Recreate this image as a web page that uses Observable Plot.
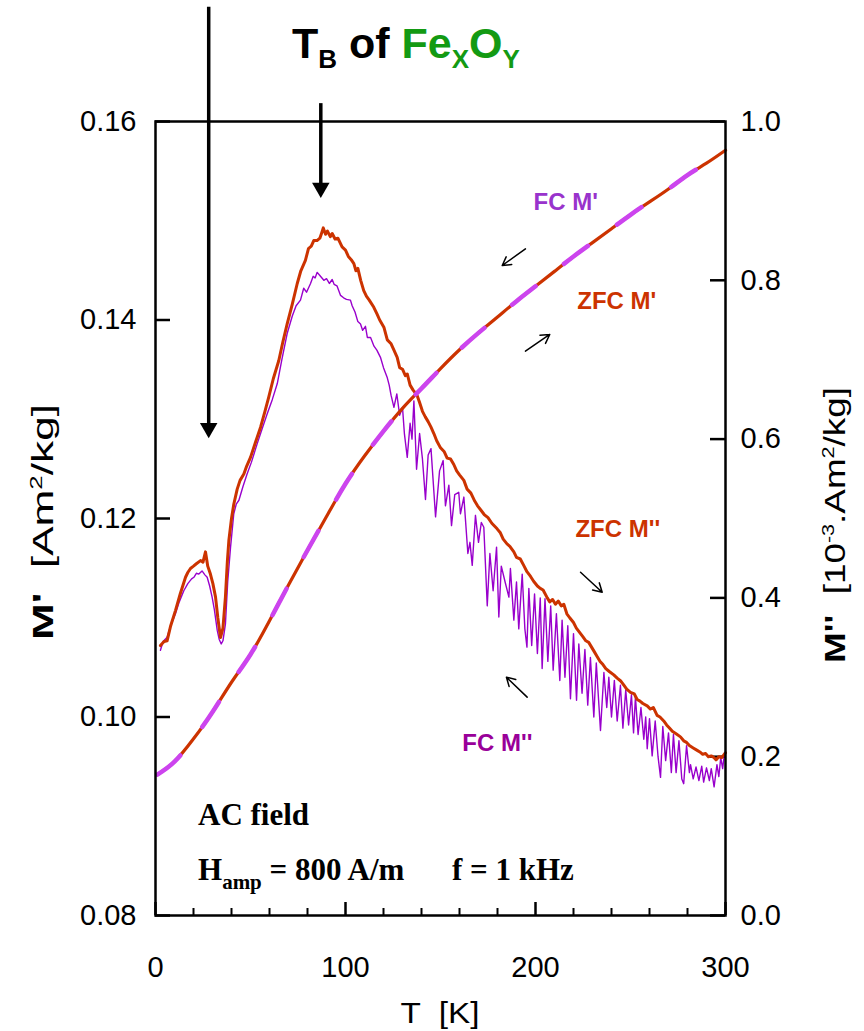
<!DOCTYPE html>
<html><head><meta charset="utf-8">
<script src="https://cdn.jsdelivr.net/npm/d3@7"></script>
<script src="https://cdn.jsdelivr.net/npm/@observablehq/plot@0.6"></script>
<style>body{margin:0;background:#fff} svg{display:block} text{white-space:pre}</style>
</head><body><div id="chart"></div><script>
// ---------- data (T in K) ----------
const tempMp = [1,10,20,30,40,50,60,70,80,90,100,110,120,130,140,150,160,170,180,190,200,210,220,230,240,250,260,270,280,290,300];
const zfcMp  = [0.0942,0.0955,0.0978,0.1005,0.1035,0.1063,0.1097,0.1133,0.1168,0.1202,0.1235,0.1263,0.1288,0.1311,0.1331,0.1351,0.1370,0.1387,0.1403,0.1419,0.1434,0.1449,0.1464,0.1478,0.1492,0.1506,0.1519,0.1532,0.1546,0.1558,0.1571];
const fcMp   = [0.0942,0.0955,0.0978,0.1005,0.1035,0.1063,0.1097,0.1133,0.1168,0.1202,0.1235,0.1263,0.1288,0.1311,0.1331,0.1351,0.1370,0.1387,0.1403,0.1419,0.1434,0.1449,0.1464,0.1478,0.1492,0.1506,0.1519,0.1532,0.1546,0.1558,0.1571];

// M'' in 10^-3 Am2/kg, [T, value]
const zfcMpp = [[2.6,0.340],[4.5,0.345],[6.1,0.346],[8,0.365],[10.5,0.384],[13,0.405],[15.8,0.426],[17,0.432],[18.4,0.437],[20,0.440],[21.5,0.443],[23.7,0.447],[25,0.445],[26.3,0.458],[27.5,0.440],[28.9,0.430],[30.2,0.418],[31.6,0.401],[32.8,0.375],[34.2,0.350],[35.5,0.362],[36.8,0.401],[37.8,0.445],[38.6,0.472],[40,0.500],[41.2,0.518],[43,0.537],[44.5,0.548],[46.5,0.556],[48,0.566],[50,0.577],[52.5,0.595],[55.3,0.615],[57.5,0.634],[59.6,0.653],[62,0.676],[64.9,0.699],[67,0.722],[69.3,0.745],[72,0.770],[74.6,0.796],[76.5,0.812],[78.9,0.825],[80.5,0.840],[82,0.843],[83.3,0.850],[85,0.850],[86.5,0.853],[87.5,0.860],[88.3,0.866],[89.5,0.858],[90.5,0.862],[92,0.855],[93,0.859],[94.5,0.852],[96,0.853],[98.2,0.842],[100,0.838],[101.5,0.830],[103,0.826],[104.4,0.821],[105.5,0.812],[106.5,0.815],[108,0.800],[109.6,0.787],[111,0.780],[112.5,0.775],[114.9,0.766],[116.5,0.758],[118,0.750],[120.2,0.741],[122,0.725],[124,0.720],[125.5,0.712],[127.2,0.703],[128.5,0.690],[130,0.688],[131.5,0.680],[132.5,0.682],[134,0.668],[135.5,0.662],[137.7,0.655],[139,0.646],[140.5,0.635],[142,0.628],[143.5,0.622],[145,0.615],[146.5,0.607],[148,0.598],[150,0.589],[152,0.584],[153.5,0.576],[155.3,0.575],[157,0.568],[158.5,0.560],[160,0.555],[162.3,0.548],[164,0.537],[166,0.532],[168,0.522],[169.5,0.516],[171.1,0.511],[173,0.505],[175,0.501],[177,0.494],[179.8,0.487],[181.5,0.482],[183,0.474],[185,0.468],[186.5,0.465],[188.6,0.458],[190,0.451],[192,0.449],[194,0.440],[195.5,0.433],[197.4,0.427],[199,0.421],[201,0.415],[202.5,0.412],[204,0.410],[206.2,0.400],[207.5,0.395],[209,0.398],[210.5,0.392],[212,0.396],[213.5,0.390],[214.9,0.392],[216.5,0.380],[218,0.375],[220,0.369],[221.5,0.362],[223.7,0.355],[225,0.351],[226.5,0.346],[228,0.344],[229.5,0.338],[231,0.332],[232.5,0.326],[234,0.320],[235.5,0.316],[237,0.311],[239,0.307],[241.2,0.303],[243,0.299],[245,0.295],[246.5,0.290],[248,0.285],[250,0.281],[252,0.279],[253.5,0.272],[255,0.270],[256.5,0.267],[258.8,0.264],[260.5,0.260],[262,0.262],[264,0.252],[265.5,0.250],[267.5,0.245],[269,0.240],[270.5,0.236],[272,0.232],[274,0.229],[276.3,0.225],[278,0.220],[279.5,0.218],[281,0.214],[283,0.211],[285.1,0.208],[286.5,0.206],[288,0.203],[289.5,0.204],[291,0.200],[292.5,0.201],[293.9,0.199],[295,0.196],[296.5,0.200],[298,0.199],[299,0.202],[300,0.205]];

const fcMpp = [[2.6,0.334],[4,0.345],[6,0.350],[8,0.365],[10.5,0.380],[12.5,0.395],[14.9,0.409],[17,0.418],[19,0.424],[20.2,0.426],[21.5,0.431],[22.8,0.430],[24.5,0.434],[26,0.429],[27.2,0.426],[28.5,0.415],[29.8,0.401],[31,0.385],[32.5,0.359],[33.5,0.348],[34.6,0.342],[35.5,0.346],[36.8,0.367],[38,0.420],[39.5,0.464],[41.2,0.506],[42.5,0.518],[43.9,0.523],[46,0.540],[48.2,0.556],[50.5,0.571],[53.5,0.594],[56,0.612],[58.8,0.632],[61.5,0.650],[64.1,0.670],[66.5,0.700],[69.3,0.733],[72,0.755],[74,0.768],[76.3,0.775],[78,0.790],[79.5,0.785],[81.6,0.796],[83,0.805],[84,0.803],[85.1,0.810],[86.5,0.806],[88.6,0.800],[90,0.802],[91.5,0.796],[93,0.801],[94,0.795],[95.5,0.793],[97.4,0.781],[99,0.778],[100.5,0.776],[102.6,0.775],[103.5,0.768],[105,0.760],[106.5,0.748],[107.9,0.745],[109,0.737],[110.5,0.742],[111.5,0.728],[113.2,0.728],[115,0.717],[116.5,0.712],[118.4,0.703],[120,0.690],[121.9,0.678],[123,0.668],
[124,0.655],[125.5,0.640],[127,0.657],[128.5,0.630],[130,0.640],[131,0.607],[132.5,0.577],[134,0.620],[135,0.600],[136,0.648],[137.4,0.562],[139,0.607],[140.5,0.575],[142.1,0.524],[143.5,0.580],[145,0.588],[147.4,0.502],[149.5,0.560],[151.4,0.573],[152.6,0.516],[154.4,0.542],[155.8,0.491],[157.5,0.530],[159.6,0.533],[160.5,0.506],[162.3,0.527],[164.4,0.456],[165.5,0.470],[166.7,0.441],[168.4,0.504],[170,0.470],[171.5,0.495],[172.8,0.489],[174.6,0.390],[176,0.456],[177.7,0.409],[179.5,0.464],[180.7,0.376],[182,0.440],[184,0.420],[186,0.401],[186.8,0.437],[188.6,0.372],[190,0.420],[191.2,0.361],[193,0.430],[194.4,0.361],[195.5,0.338],[196.5,0.412],[198,0.340],[199.5,0.405],[201,0.330],[202.5,0.400],[203.5,0.311],[205,0.399],[206.5,0.320],[208,0.390],[209.3,0.309],[211,0.380],[212.8,0.296],[214,0.372],[215.5,0.300],[217,0.365],[218.4,0.273],[220,0.355],[221.6,0.271],[222.8,0.342],[224.5,0.280],[226,0.335],[227.5,0.265],[228.9,0.325],[230.7,0.250],[232,0.318],[234.2,0.233],[236,0.306],[237.5,0.262],[238.6,0.300],[240,0.250],[241.5,0.296],[243,0.245],[244.7,0.290],[246,0.236],[247.5,0.284],[249,0.240],[250.5,0.278],[251.6,0.230],[252.6,0.275],[254,0.228],[255.5,0.262],[257,0.222],[258,0.250],[258.8,0.210],[260,0.248],[261.4,0.201],[263,0.245],[264.5,0.200],[265.8,0.174],[267,0.238],[268.5,0.195],[270,0.230],[271.5,0.180],[272.6,0.228],[274,0.180],[275.5,0.220],[277,0.172],[278,0.166],[279.5,0.214],[281,0.180],[281.6,0.190],[283,0.172],[284.5,0.187],[286,0.170],[287.5,0.188],[288.5,0.168],[290,0.186],[291.5,0.170],[292.5,0.185],[294,0.162],[295.5,0.190],[296.5,0.175],[297.5,0.199],[298.5,0.185],[299.5,0.205]];

const xMajorTicks = [0,100,200,300];
const xMinorTicks = [20,40,60,80,120,140,160,180,220,240,260,280];
const leftTicks = [0.08,0.10,0.12,0.14,0.16];
const rightTicks = [0,0.2,0.4,0.6,0.8,1.0];

// annotations
const curveLabels = [
  {T:199, v:0.1519, label:"FC M'", color:"#9933cc"},
  {T:222, v:0.1419, label:"ZFC M'", color:"#cc3300"},
  {T:221, v:0.1189, label:"ZFC M''", color:"#cc3300"},
  {T:161.5, v:0.0973, label:"FC M''", color:"#990099"}
];
const smallArrows = [
  {x1:194.7, y1:0.14717, x2:182.5, y2:0.14549},
  {x1:194.7, y1:0.13686, x2:207.5, y2:0.13854},
  {x1:223.7, y1:0.11459, x2:235.1, y2:0.11257},
  {x1:195.6, y1:0.10200, x2:184.7, y2:0.10401}
];
const bigArrows = [{T:28, top:0.1715, tip:0.1281}, {T:87, top:0.1618, tip:0.1523}];

// ---------- chart ----------
const W = 864, H = 1031, mL = 155, mR = 139, mT = 121, mB = 116;
const pxT = 300 / (W - mL - mR);          // K per pixel
const pxY = 0.08 / (H - mT - mB);         // M' per pixel
const toLeft = v => 0.08 + 0.08 * v;      // right axis -> left axis units
const font = "Liberation Sans, Arial, Helvetica, sans-serif";

const chart = Plot.plot({
  width: W, height: H,
  marginLeft: mL, marginRight: mR, marginTop: mT, marginBottom: mB,
  x: {domain: [0, 300]},
  y: {domain: [0.08, 0.16]},
  color: {type: "identity"},
  style: {fontFamily: font, background: "white", color: "black"},
  marks: [
    Plot.axisX({ticks: xMajorTicks, tickSize: 0, tickPadding: 41, fontSize: 29, label: null}),
    Plot.axisY({anchor: "left", ticks: leftTicks, tickFormat: d => d.toFixed(2), tickSize: 0, tickPadding: 19, fontSize: 29, label: null}),
    Plot.axisY({anchor: "right", ticks: rightTicks.map(toLeft), tickFormat: d => ((d - 0.08) / 0.08).toFixed(1), tickSize: 0, tickPadding: 15, fontSize: 29, label: null}),
    // inward ticks
    Plot.ruleY(leftTicks, {x1: 0, x2: 15 * pxT, strokeWidth: 2.5}),
    Plot.ruleY(rightTicks.map(toLeft), {x1: 300 - 15 * pxT, x2: 300, strokeWidth: 2.5}),
    Plot.ruleX(xMajorTicks, {y1: 0.08, y2: 0.08 + 13 * pxY, strokeWidth: 2.5}),
    Plot.ruleX(xMinorTicks, {y1: 0.08, y2: 0.08 + 7 * pxY, strokeWidth: 2}),
    // curves
    Plot.line(fcMpp, {x: d => d[0], y: d => toLeft(d[1]), stroke: "#9900cc", strokeWidth: 1.4}),
    Plot.line(zfcMpp, {x: d => d[0], y: d => toLeft(d[1]), stroke: "#cc3300", strokeWidth: 3}),
    Plot.line(tempMp, {x: d => d, y: (d, i) => zfcMp[i], stroke: "#cc3300", strokeWidth: 3.2, curve: "natural"}),
    Plot.line(tempMp, {x: d => d, y: (d, i) => fcMp[i], stroke: "#cc44ee", strokeWidth: 4.5, strokeDasharray: "30,36", curve: "natural"}),
    Plot.frame({stroke: "black", strokeWidth: 2.5}),
    // annotations
    Plot.arrow(smallArrows, {x1: "x1", y1: "y1", x2: "x2", y2: "y2", stroke: "black", strokeWidth: 1.5, headLength: 11}),
    Plot.ruleX(bigArrows, {x: "T", y1: "top", y2: d => d.tip + 10 * pxY, stroke: "black", strokeWidth: 3.5}),
    Plot.dot(bigArrows, {x: "T", y: "tip", symbol: "triangle", r: 6.5, fill: "black", stroke: null, rotate: 180, dy: -10}),
    Plot.text(curveLabels, {x: "T", y: "v", text: "label", fill: "color", textAnchor: "start", fontWeight: "bold", fontSize: 24})
  ]
});
document.getElementById("chart").appendChild(chart);

// ---------- rich text (sub/superscripts) ----------
const svg = d3.select(chart);
function rich(x, y, size, weight, family, parts, opts = {}) {
  const t = svg.append("text").attr("x", x).attr("y", y)
    .attr("font-size", size).attr("font-weight", weight).attr("font-family", family)
    .attr("fill", "black").attr("text-anchor", opts.anchor || "start");
  if (opts.transform) t.attr("transform", opts.transform).attr("x", 0).attr("y", 0);
  if (opts.length) t.attr("textLength", opts.length).attr("lengthAdjust", "spacingAndGlyphs");
  for (const p of parts) {
    const s = t.append("tspan").text(p.text);
    if (p.size) s.attr("font-size", p.size);
    if (p.dy) s.attr("dy", p.dy);
    if (p.fill) s.attr("fill", p.fill);
    if (p.weight) s.attr("font-weight", p.weight);
  }
  return t;
}
const green = "#139a13";
rich(292, 58, 43, "bold", font, [
  {text: "T"}, {text: "B", size: 26, dy: 10}, {text: " of ", dy: -10},
  {text: "Fe", fill: green}, {text: "X", size: 26, dy: 10, fill: green},
  {text: "O", dy: -10, fill: green}, {text: "Y", size: 26, dy: 10, fill: green}
]);
const serif = "Liberation Serif, Times New Roman, serif";
rich(198, 825, 31, "bold", serif, [{text: "AC field"}]);
rich(198, 880, 31, "bold", serif, [{text: "H"}, {text: "amp", size: 21, dy: 9}, {text: " = 800 A/m", dy: -9}]);
rich(452, 880, 31, "bold", serif, [{text: "f = 1 kHz"}]);
// axis titles
rich(440, 1023, 30, "normal", font, [{text: "T  [K]"}], {anchor: "middle", length: 79});
rich(0, 0, 29, "normal", font, [
  {text: "M'", weight: "bold"}, {text: "  [Am"}, {text: "2", size: 17, dy: -11}, {text: "/kg]", dy: 11}
], {anchor: "middle", transform: "translate(53,522) rotate(-90)", length: 236});
rich(0, 0, 29, "normal", font, [
  {text: "M''", weight: "bold"}, {text: "  [10"}, {text: "-3", size: 17, dy: -11}, {text: ".Am", dy: 11},
  {text: "2", size: 17, dy: -11}, {text: "/kg]", dy: 11}
], {anchor: "middle", transform: "translate(845,525) rotate(-90)", length: 276});
</script></body></html>
